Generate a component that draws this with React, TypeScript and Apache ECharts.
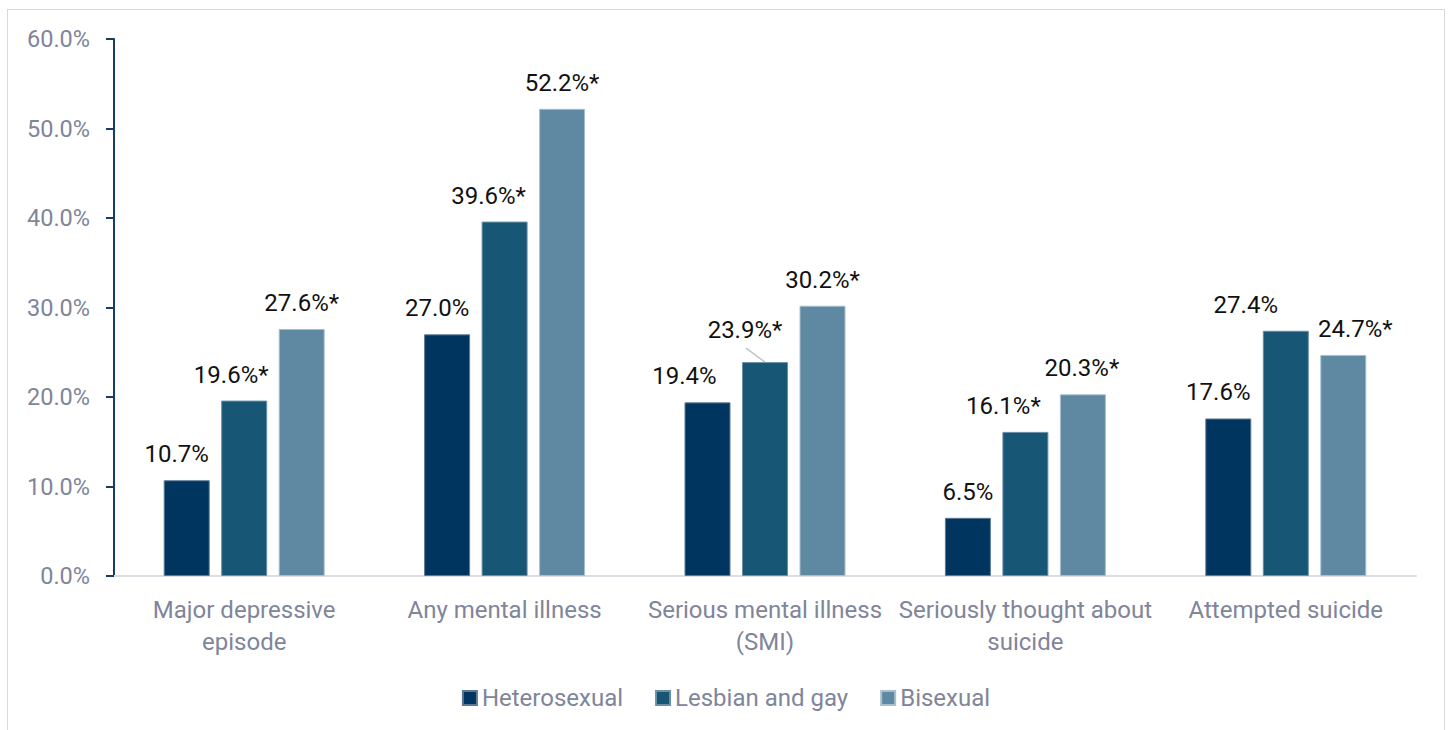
import React, { useEffect, useRef } from "react";
import * as echarts from "echarts";

const categories = [
  "Major depressive\nepisode",
  "Any mental illness",
  "Serious mental illness\n(SMI)",
  "Seriously thought about\nsuicide",
  "Attempted suicide",
];
const seriesNames = ["Heterosexual", "Lesbian and gay", "Bisexual"];
const heterosexual = [10.7, 27.0, 19.4, 6.5, 17.6];
const lesbianGay = [19.6, 39.6, 23.9, 16.1, 27.4];
const bisexual = [27.6, 52.2, 30.2, 20.3, 24.7];
// "*" marks significant difference from heterosexual
const lesbianGayStar = [true, true, true, true, false];
const bisexualStar = [true, true, true, true, true];
const yTicks = { min: 0, max: 60, interval: 10 };

const colors = ["#003560", "#185676", "#5f89a2"];
const borders = ["#5b7a96", "#6a8fa6", "#a7c0cf"];
// label nudges (px), as placed in the original
const labelDx = [
  [-10, -10, -23, 0, -10],
  [-13, -16, -20, -22, -40],
  [0, 0, 0, -1, 12],
];
const labelDy = [
  [0, 0, 0, 0, 0],
  [0, 0, -6, 0, 0],
  [0, 0, 0, 0, 0],
];
// leader line for the moved label: series index, category index
const leader = { series: 1, category: 2 };

const FONT = "Roboto";

export default function App() {
  const ref = useRef<HTMLDivElement>(null);
  useEffect(() => {
    if (!ref.current) return;
    const chart = echarts.init(ref.current, undefined, { renderer: "svg" });
    const allData = [heterosexual, lesbianGay, bisexual];
    const stars = [heterosexual.map(() => false), lesbianGayStar, bisexualStar];
    const series = allData.map((vals, si) => ({
      name: seriesNames[si],
      type: "bar",
      barWidth: 46,
      barGap: "25%",
      itemStyle: { color: colors[si], borderColor: borders[si], borderWidth: 1 },
      data: vals,
      label: {
        show: true,
        position: "top",
        distance: 14,
        fontFamily: FONT,
        fontSize: 24,
        color: "#111111",
        formatter: (p: any) =>
          p.value.toFixed(1) + "%" + (stars[si][p.dataIndex] ? "*" : ""),
      },
      labelLine: { show: false },
      labelLayout: (p: any) => ({
        dx: labelDx[si][p.dataIndex],
        dy: labelDy[si][p.dataIndex],
      }),
    }));

    chart.setOption({
      animation: false,
      textStyle: { fontFamily: FONT },
      color: colors,
      grid: { left: 106, right: 28, top: 29, bottom: 154, containLabel: false },
      legend: {
        data: seriesNames,
        top: 671,
        left: "center",
        icon: "rect",
        itemWidth: 14,
        itemHeight: 14,
        itemGap: 32,
        textStyle: { fontFamily: FONT, fontSize: 24, color: "#80859a" },
      },
      xAxis: {
        type: "category",
        data: categories,
        axisLine: { show: true, lineStyle: { color: "#dcdde3", width: 2 } },
        axisTick: { show: false },
        axisLabel: {
          interval: 0,
          margin: 18,
          fontFamily: FONT,
          fontSize: 24,
          lineHeight: 32,
          color: "#80859a",
        },
      },
      yAxis: {
        type: "value",
        min: yTicks.min,
        max: yTicks.max,
        interval: yTicks.interval,
        axisLine: { show: true, lineStyle: { color: "#153d68", width: 2 } },
        axisTick: { show: true, length: 8, lineStyle: { color: "#153d68", width: 2 } },
        splitLine: { show: false },
        axisLabel: {
          margin: 24,
          fontFamily: FONT,
          fontSize: 23.5,
          color: "#80859a",
          formatter: (v: number) => v.toFixed(1) + "%",
        },
      },
      series,
    });

    // leader line from the top of the (middle, centred) bar to its moved label
    const v = allData[leader.series][leader.category];
    const pt = chart.convertToPixel({ seriesIndex: leader.series }, [leader.category, v]) as number[];
    if (pt) {
      chart.setOption({
        graphic: [
          {
            type: "line",
            shape: { x1: pt[0], y1: pt[1], x2: pt[0] + labelDx[leader.series][leader.category] + 1, y2: pt[1] - 14 },
            style: { stroke: "#bfc3c9", lineWidth: 1.5 },
            silent: true,
          },
        ],
      });
    }
    return () => chart.dispose();
  }, []);

  return (
    <div
      style={{
        position: "absolute",
        left: 7,
        top: 9,
        width: 1438,
        height: 721,
        boxSizing: "border-box",
        border: "1px solid #d9d9dc",
        borderBottom: "none",
        background: "#fff",
      }}
    >
      <div ref={ref} style={{ width: 1436, height: 720 }} />
    </div>
  );
}
